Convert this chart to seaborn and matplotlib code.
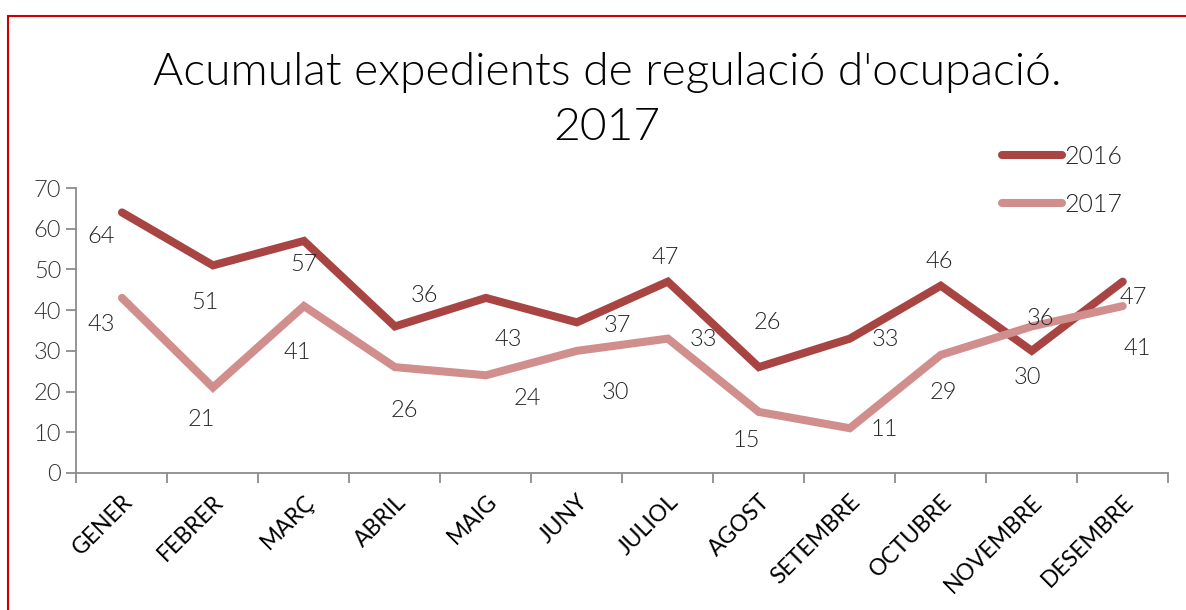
import pandas as pd
import matplotlib.pyplot as plt
import seaborn as sns
from matplotlib.patches import Rectangle

# Data
months = ["GENER", "FEBRER", "MARÇ", "ABRIL", "MAIG", "JUNY",
          "JULIOL", "AGOST", "SETEMBRE", "OCTUBRE", "NOVEMBRE", "DESEMBRE"]
vals_2016 = [64, 51, 57, 36, 43, 37, 47, 26, 33, 46, 30, 47]
vals_2017 = [43, 21, 41, 26, 24, 30, 33, 15, 11, 29, 36, 41]
years = ["2016", "2017"]

# label offsets (pixels) for the data labels
offs_2016 = [(-21, -24), (-8, -37), (0, -24), (30, 31), (22, -42), (41, -3),
             (-3, 24), (9, 45), (36, -1), (-1, 24), (-4, -27), (11, -16)]
offs_2017 = [(-21, -27), (-12, -32), (-7, -46), (9, -43), (41, -23), (39, -42),
             (36, -1), (-13, -29), (35, -1), (3, -38), (9, 8), (15, -42)]

df = pd.DataFrame({
    "mes": months * 2,
    "valor": vals_2016 + vals_2017,
    "any": [years[0]] * 12 + [years[1]] * 12,
})

sns.set_style("white")
plt.rcParams["font.family"] = ["Lato", "DejaVu Sans"]
W = 300  # light weight

fig = plt.figure(figsize=(11.86, 6.10), dpi=100)
ax = fig.add_axes([0.0645, 0.2246, 0.9205, 0.4672])

colors = {"2016": "#A84442", "2017": "#D08E8C"}
sns.lineplot(data=df, x="mes", y="valor", hue="any", palette=colors,
             linewidth=5.8, sort=False, ax=ax, legend=True)
for line in ax.get_lines():
    line.set_solid_capstyle("round")
    line.set_solid_joinstyle("miter")

# data labels
for vals, offs in [(vals_2016, offs_2016), (vals_2017, offs_2017)]:
    for i, (v, o) in enumerate(zip(vals, offs)):
        ax.annotate(str(v), (i, v), xytext=o, textcoords="offset pixels",
                    ha="center", va="center", fontsize=17, color="#262626",
                    fontweight=W)

ax.set_xlim(-0.5, 11.5)
ax.set_ylim(0, 70)
ax.set_yticks(range(0, 71, 10))
ax.set_xticks(range(12))
ax.set_xticklabels(months, rotation=45, ha="right", va="top",
                   rotation_mode="anchor", fontsize=16.5, color="black")
ax.set_xticks([i - 0.5 for i in range(13)], minor=True)
ax.tick_params(axis="x", which="major", length=0, pad=13)
ax.tick_params(axis="x", which="minor", length=7, width=1.3, color="#8C8C8C",
               direction="out", bottom=True)
ax.tick_params(axis="y", length=7, width=1.3, color="#8C8C8C", direction="out",
               left=True, labelsize=17, labelcolor="#333333", pad=4)
for lbl in ax.get_yticklabels():
    lbl.set_fontweight(W)
ax.set_xlabel("")
ax.set_ylabel("")
for s in ["top", "right"]:
    ax.spines[s].set_visible(False)
for s in ["left", "bottom"]:
    ax.spines[s].set_color("#8C8C8C")
    ax.spines[s].set_linewidth(1.3)

leg = ax.legend(loc="upper left", bbox_to_anchor=(1002 / 1186, 1 - 145 / 610),
                bbox_transform=fig.transFigure, frameon=False,
                prop={"size": 18, "weight": W},
                handlelength=2.4, handletextpad=0.12, labelspacing=0.95,
                borderaxespad=0, borderpad=0)
for h in leg.get_lines():
    h.set_linewidth(5.8)
    h.set_solid_capstyle("round")

fig.text(0.512, 1 - 100 / 610, "Acumulat expedients de regulació d'ocupació.\n2017",
         ha="center", va="center", fontsize=33.3, color="black",
         fontweight=W, linespacing=1.42)

fig.add_artist(Rectangle((8 / 1186, -0.1), 2, 1 - 16 / 610 + 0.1, fill=False,
                         edgecolor="#CC0000", linewidth=1.5,
                         transform=fig.transFigure))

plt.savefig("out.png", dpi=100)
plt.close()
